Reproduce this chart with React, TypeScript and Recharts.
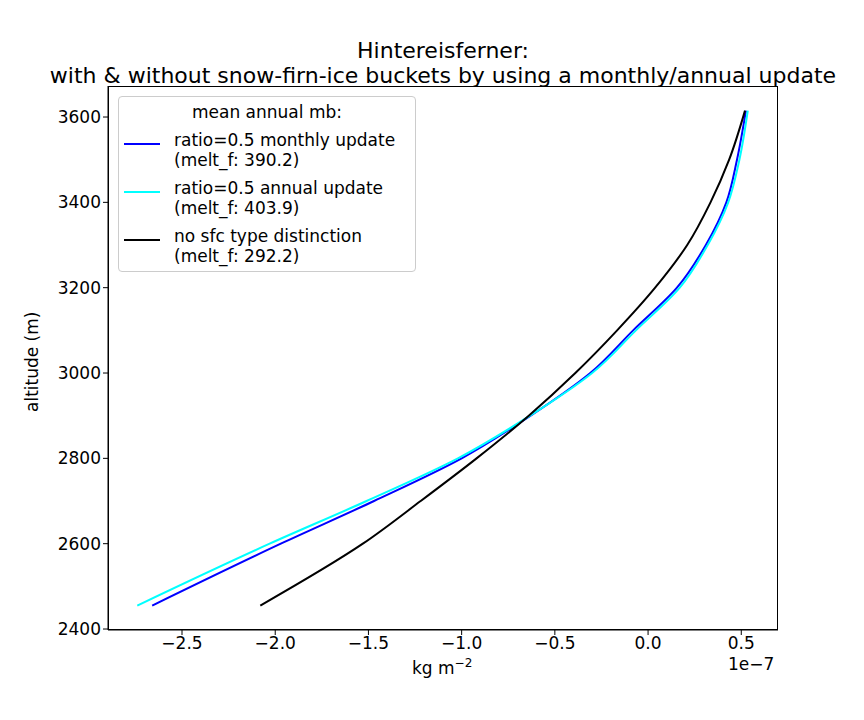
import React from 'react';
import { LineChart, Line, XAxis, YAxis } from 'recharts';

const altitudes = [2455, 2600, 2700, 2800, 2900, 3000, 3100, 3200, 3300, 3400, 3500, 3615];
const monthlyMb = [-2.66, -1.97, -1.47, -1.0, -0.63, -0.31, -0.08, 0.155, 0.31, 0.42, 0.477, 0.525];
const annualMb = [-2.74, -2.03, -1.51, -1.02, -0.633, -0.3, -0.065, 0.17, 0.32, 0.43, 0.49, 0.535];
const noSfcMb = [-2.08, -1.53, -1.22, -0.92, -0.64, -0.39, -0.166, 0.038, 0.21, 0.335, 0.435, 0.52];
const xTicks = [-2.5, -2.0, -1.5, -1.0, -0.5, 0.0, 0.5];
const yTicks = [2400, 2600, 2800, 3000, 3200, 3400, 3600];

const series = [
  { name: 'ratio=0.5 monthly update', melt: '390.2', color: '#0000ff', values: monthlyMb },
  { name: 'ratio=0.5 annual update', melt: '403.9', color: '#00ffff', values: annualMb },
  { name: 'no sfc type distinction', melt: '292.2', color: '#000000', values: noSfcMb },
];

const font = 'DejaVu Sans, sans-serif';
const fmt = (v: number) => v.toFixed(1).replace('-', '\u2212');

export default function App() {
  return (
    <div style={{ position: 'absolute', left: 0, top: 0, width: 864, height: 720, background: '#fff', fontFamily: font }}>
      <LineChart width={864} height={720} margin={{ top: 86, right: 86, bottom: 50, left: 8 }}>
        <XAxis type="number" dataKey="mb" domain={[-2.897, 0.697]} ticks={xTicks} tickFormatter={fmt}
          height={40} tick={{ fill: '#000', fontSize: 17, fontFamily: font }} stroke="#000" tickSize={5} allowDataOverflow />
        <YAxis type="number" dataKey="alt" domain={[2397.7, 3672.7]} ticks={yTicks} width={100}
          tick={{ fill: '#000', fontSize: 17, fontFamily: font }} stroke="#000" tickSize={5} allowDataOverflow />
        {series.map((s) => (
          <Line key={s.name} data={s.values.map((v, i) => ({ mb: v, alt: altitudes[i] }))}
            dataKey="alt" stroke={s.color} strokeWidth={2} dot={false} isAnimationActive={false} type="monotoneY" />
        ))}
      </LineChart>
      <div style={{ position: 'absolute', left: 108, top: 86, width: 670, height: 544, border: '1px solid #000', boxSizing: 'border-box', pointerEvents: 'none' }} />
      <div style={{ position: 'absolute', top: 38, left: 0, width: 886, textAlign: 'center', fontSize: 22, lineHeight: '25px' }}>
        Hintereisferner:<br />with &amp; without snow-firn-ice buckets by using a monthly/annual update
      </div>
      <div style={{ position: 'absolute', top: 656, left: 412, fontSize: 17 }}>kg m<sup style={{ fontSize: 12 }}>−2</sup></div>
      <div style={{ position: 'absolute', top: 654, left: 728, fontSize: 17 }}>1e−7</div>
      <div style={{ position: 'absolute', left: 22, top: 412, fontSize: 17, transform: 'rotate(-90deg)', transformOrigin: 'left top', whiteSpace: 'nowrap' }}>altitude (m)</div>
      <div style={{ position: 'absolute', left: 118, top: 96, width: 298, height: 176, border: '1px solid #ccc', borderRadius: 4, background: '#fff', fontSize: 17, lineHeight: '20px', boxSizing: 'border-box' }}>
        <div style={{ textAlign: 'center', marginTop: 5 }}>mean annual mb:</div>
        {series.map((s) => (
          <div key={s.name} style={{ display: 'flex', marginTop: 8 }}>
            <div style={{ width: 36, height: 2, background: s.color, margin: '13px 14px 0 5px' }} />
            <div>{s.name}<br />(melt_f: {s.melt})</div>
          </div>
        ))}
      </div>
    </div>
  );
}
